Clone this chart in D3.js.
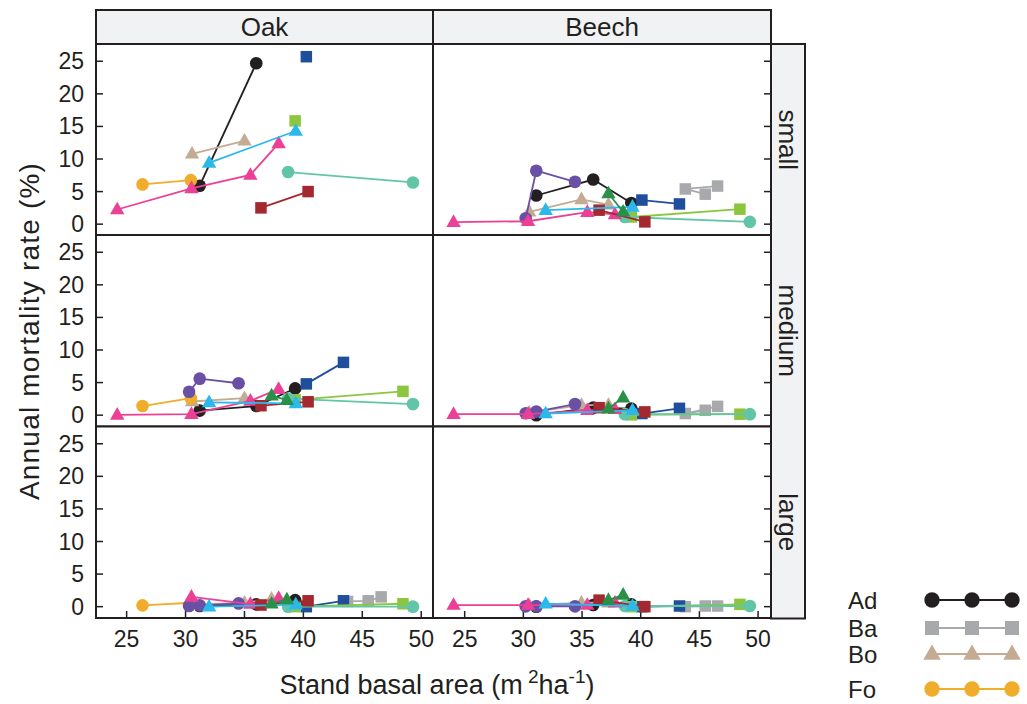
<!DOCTYPE html>
<html><head><meta charset="utf-8">
<script src="https://cdn.jsdelivr.net/npm/d3@7"></script>
<style>
body{margin:0;background:#fff}
text{font-family:"Liberation Sans",Arial,sans-serif;fill:#231f20}
</style>
</head><body>
<svg id="c" width="1027" height="704"></svg>
<script>
// ---------- data ----------
const seriesNames  = ["Ad","Ba","Bo","Fo","S5","S6","S7","S8","S9","S10","S11","S12"];
const seriesColors = ["#231f20","#a7a9ac","#c4ab93","#f0ad2b","#6a50a4","#1f4e9d","#8cc63f","#63c5a8","#ec3f96","#a3282f","#2bb9ec","#2a9048"];
const seriesShapes = ["circle","square","triangle","circle","circle","square","square","circle","triangle","square","triangle","triangle"];
const species = ["Oak","Beech"];
const sizes = ["small","medium","large"];
const xTicks = [25,30,35,40,45,50];
const yTicks = [0,5,10,15,20,25];
const legendNames = ["Ad","Ba","Bo","Fo"];

// stand basal area per series (Oak)
const oakX = [
  [31.2,36.0,39.3],[43.75,45.5,46.6],[30.55,35.0,37.3],[26.35,30.45],
  [30.3,31.2,34.5],[40.25,43.4],[39.3,48.45],[38.7,49.3],
  [24.2,30.5,35.5,37.9],[36.4,40.4],[32.0,39.35],[37.3,38.6]
];
const oakSmall = [
  [5.9,24.7,null],[null,null,null],[10.8,12.8,null],[6.1,6.75],
  [null,null,null],[25.7,null],[15.85,null],[8.0,6.4],
  [2.25,5.5,7.55,12.4],[2.5,5.0],[9.4,14.3],[null,null]
];
const oakMedium = [
  [0.7,1.4,4.1],[null,null,null],[2.1,2.6,null],[1.4,2.6],
  [3.6,5.6,4.9],[4.8,8.1],[2.35,3.65],[2.55,1.7],
  [0.05,0.15,2.2,4.0],[1.45,2.05],[1.95,1.8],[3.0,2.3]
];
const oakLarge = [
  [0.1,0.35,1.0],[0.8,0.9,1.5],[0.3,0.6,1.2],[0.2,0.6],
  [0.1,0.2,0.5],[0.0,0.9],[0.0,0.45],[0.0,0.0],
  [null,1.5,0.4,1.3],[0.25,0.9],[0.0,0.3],[0.45,1.1]
];

// stand basal area per series (Beech)
const beechX = [
  [31.1,35.95,39.2],[45.5,43.8,46.55],[30.5,34.95,37.25],[],
  [30.2,31.1,34.4],[40.1,43.3],[39.2,48.45],[38.65,49.3],
  [24.05,30.4,35.45,37.8],[36.45,40.35],[31.9,39.3],[37.25,38.5]
];
const beechSmall = [
  [4.4,6.85,3.25],[4.6,5.4,5.85],[1.9,3.8,3.0],[],
  [0.9,8.2,6.5],[3.7,3.1],[1.1,2.3],[1.1,0.35],
  [0.3,0.45,1.85,1.5],[2.15,0.35],[2.15,2.65],[4.7,1.9]
];
const beechMedium = [
  [0.0,1.15,1.0],[0.75,0.25,1.35],[0.4,1.55,1.55],[],
  [0.3,0.55,1.7],[0.25,1.05],[0.05,0.15],[0.15,0.15],
  [0.15,0.15,0.75,0.9],[1.15,0.5],[0.25,0.75],[1.0,2.7]
];
const beechLarge = [
  [0.0,0.25,0.35],[0.1,0.0,0.1],[0.2,0.6,0.6],[],
  [0.05,0.05,0.05],[0.0,0.1],[0.0,0.35],[0.1,0.1],
  [0.25,0.25,0.25,0.6],[1.0,0.0],[0.45,0.1],[1.0,1.8]
];

const panelX = [oakX, beechX];
const panelY = [[oakSmall,oakMedium,oakLarge],[beechSmall,beechMedium,beechLarge]];

// ---------- layout ----------
const svg = d3.select("#c");
const ink = "#231f20", stripFill = "#f1f2f4";
const colLeft = [96,433], colRight = [433,771];
const rowTop = [44,235,426.5], rowH = 191.5;
const stripTop = 10, stripRight = 805;
const xDomains = [[22.4,51.0],[22.3,51.1]];
const yDomain = [-1.74,27.65];

function marker(g, shape, cx, cy, color, s){
  if(shape==="circle"){
    g.append("circle").attr("cx",cx).attr("cy",cy).attr("r",s*0.55).attr("fill",color);
  } else if(shape==="square"){
    g.append("rect").attr("x",cx-s*0.5).attr("y",cy-s*0.5).attr("width",s).attr("height",s).attr("fill",color);
  } else {
    const w=s*1.25, h=s*1.1;
    g.append("path").attr("d",`M${cx},${cy-h*0.62}L${cx+w/2},${cy+h*0.38}L${cx-w/2},${cy+h*0.38}Z`).attr("fill",color);
  }
}

// strips
species.forEach((sp,c)=>{
  svg.append("rect").attr("x",colLeft[c]).attr("y",stripTop).attr("width",colRight[c]-colLeft[c]).attr("height",rowTop[0]-stripTop)
    .attr("fill",stripFill).attr("stroke",ink).attr("stroke-width",2);
  svg.append("text").attr("x",(colLeft[c]+colRight[c])/2).attr("y",(stripTop+rowTop[0])/2+9)
    .attr("text-anchor","middle").attr("font-size",26).text(sp);
});
svg.append("rect").attr("x",colRight[1]).attr("y",rowTop[0]).attr("width",stripRight-colRight[1]).attr("height",rowH*3)
  .attr("fill",stripFill).attr("stroke",ink).attr("stroke-width",2);
sizes.forEach((sz,r)=>{
  const cx=(colRight[1]+stripRight)/2, cy=rowTop[r]+rowH/2;
  svg.append("text").attr("transform",`translate(${cx-9},${cy}) rotate(90)`)
    .attr("text-anchor","middle").attr("font-size",26).text(sz);
});

// panels
species.forEach((sp,c)=>{
  const x = d3.scaleLinear().domain(xDomains[c]).range([colLeft[c],colRight[c]]);
  sizes.forEach((sz,r)=>{
    const y = d3.scaleLinear().domain(yDomain).range([rowTop[r]+rowH,rowTop[r]]);
    const g = svg.append("g");
    g.append("rect").attr("x",colLeft[c]).attr("y",rowTop[r]).attr("width",colRight[c]-colLeft[c]).attr("height",rowH).attr("fill","#fff");
    yTicks.forEach(t=>{
      if(c===0){
        g.append("line").attr("x1",colLeft[c]).attr("x2",colLeft[c]+7).attr("y1",y(t)).attr("y2",y(t)).attr("stroke",ink).attr("stroke-width",1.5);
        g.append("text").attr("x",84).attr("y",y(t)+8).attr("text-anchor","end").attr("font-size",23).text(t);
      } else {
        g.append("line").attr("x1",colRight[c]).attr("x2",colRight[c]-7).attr("y1",y(t)).attr("y2",y(t)).attr("stroke",ink).attr("stroke-width",1.5);
      }
    });
    if(r===2){
      xTicks.forEach(t=>{
        g.append("line").attr("x1",x(t)).attr("x2",x(t)).attr("y1",rowTop[r]+rowH).attr("y2",rowTop[r]+rowH-7).attr("stroke",ink).attr("stroke-width",1.5);
        g.append("text").attr("x",x(t)).attr("y",rowTop[r]+rowH+29).attr("text-anchor","middle").attr("font-size",23).text(t);
      });
    }
    const xs = panelX[c], ys = panelY[c][r];
    const line = d3.line().defined(d=>d[1]!==null).x(d=>x(d[0])).y(d=>y(d[1]));
    xs.forEach((xv,i)=>{
      const pts = xv.map((v,j)=>[v,ys[i][j]]);
      if(!pts.length) return;
      g.append("path").attr("d",line(pts)).attr("fill","none").attr("stroke",seriesColors[i]).attr("stroke-width",1.8);
      pts.filter(p=>p[1]!==null).forEach(p=>marker(g,seriesShapes[i],x(p[0]),y(p[1]),seriesColors[i],11.5));
    });
    g.append("rect").attr("x",colLeft[c]).attr("y",rowTop[r]).attr("width",colRight[c]-colLeft[c]).attr("height",rowH)
      .attr("fill","none").attr("stroke",ink).attr("stroke-width",2);
  });
});

// axis titles
const xt = svg.append("text").attr("x",437).attr("y",694).attr("text-anchor","middle").attr("font-size",27);
xt.append("tspan").text("Stand basal area (m");
xt.append("tspan").attr("dy",-11).attr("font-size",19).text(" 2");
xt.append("tspan").attr("dy",11).text("ha");
xt.append("tspan").attr("dy",-11).attr("font-size",19).text("-1");
xt.append("tspan").attr("dy",11).text(")");
svg.append("text").attr("transform","translate(39,331) rotate(-90)").attr("text-anchor","middle").attr("font-size",28)
  .attr("letter-spacing",1.2).text("Annual mortality rate (%)");

// legend
const legY = [600,628,654,689];
legendNames.forEach((nm,i)=>{
  const yy = legY[i];
  svg.append("text").attr("x",848).attr("y",yy+9).attr("font-size",24).text(nm);
  svg.append("line").attr("x1",932).attr("x2",1012).attr("y1",yy).attr("y2",yy).attr("stroke",seriesColors[i]).attr("stroke-width",1.8);
  [932,972,1012].forEach(px=>marker(svg,seriesShapes[i],px,yy,seriesColors[i],14));
});
</script>
</body></html>
